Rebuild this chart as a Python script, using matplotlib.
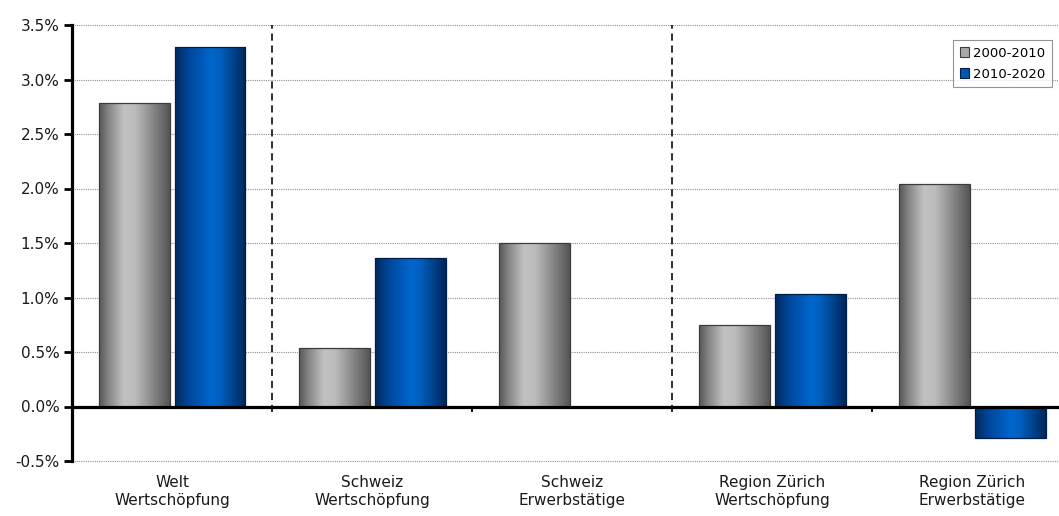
import numpy as np
import matplotlib
matplotlib.use("Agg")
import matplotlib.pyplot as plt
from matplotlib.colors import LinearSegmentedColormap
from matplotlib.patches import Patch
from matplotlib.ticker import FuncFormatter

# Average annual growth rates in percent
categories = ["Welt\nWertschöpfung", "Schweiz\nWertschöpfung", "Schweiz\nErwerbstätige",
              "Region Zürich\nWertschöpfung", "Region Zürich\nErwerbstätige"]
growth_2000_2010 = [2.78, 0.54, 1.50, 0.75, 2.04]
growth_2010_2020 = [3.30, 1.36, np.nan, 1.03, -0.29]
series_labels = ["2000-2010", "2010-2020"]
y_ticks = [-0.5, 0.0, 0.5, 1.0, 1.5, 2.0, 2.5, 3.0, 3.5]

plt.rcParams['font.family'] = ['DejaVu Sans']

W, H = 1059, 516
fig = plt.figure(figsize=(W / 100, H / 100), dpi=100)
ax = fig.add_axes([72 / W, 55 / H, 1000 / W, 436 / H])

gray_cmap = LinearSegmentedColormap.from_list("gray_bar", [
    (0.0, "#575757"), (0.15, "#8a8a8a"), (0.35, "#c2c2c2"), (0.5, "#bdbdbd"),
    (0.75, "#8a8a8a"), (1.0, "#545454")])
blue_cmap = LinearSegmentedColormap.from_list("blue_bar", [
    (0.0, "#002a5e"), (0.2, "#00479c"), (0.5, "#0066cc"), (0.62, "#0061c2"),
    (0.85, "#003e84"), (1.0, "#00275a")])

x = np.arange(len(categories))
width = 0.355
offset = 0.19


def gradient_bars(xpos, values, cmap, edge):
    bars = ax.bar(xpos, values, width, facecolor="none", edgecolor=edge,
                  linewidth=0.9, zorder=3)
    grad = np.linspace(0, 1, 256)[None, :]
    for b, v in zip(bars, values):
        if np.isnan(v):
            continue
        x0, y0 = b.get_x(), b.get_y()
        img = ax.imshow(grad, cmap=cmap, aspect="auto", interpolation="bicubic",
                        extent=[x0, x0 + b.get_width(), y0, y0 + b.get_height()],
                        zorder=2)
        img.set_clip_path(b)
    return bars


gradient_bars(x - offset, growth_2000_2010, gray_cmap, "#3c3c3c")
gradient_bars(x + offset, growth_2010_2020, blue_cmap, "#001d48")

ax.set_xlim(-0.5, 4.5)
ax.set_ylim(-0.5, 3.5)

# Horizontal dotted grid
for yv in y_ticks:
    if yv == 0:
        continue
    ax.axhline(yv, color="#8f8f8f", linewidth=0.8, linestyle=(0, (1, 1)),
               zorder=1, clip_on=False)

# Zero line
ax.axhline(0, color="black", linewidth=2.3, zorder=4)

# Group separators
ax.vlines([0.5, 2.5], -0.05, 3.5, colors="black", linewidth=1.15,
          linestyles=(0, (4.5, 3)), zorder=1)
# Category boundary ticks on the zero line
ax.vlines([1.5, 3.5], -0.05, 0, colors="black", linewidth=1.3, zorder=4)

ax.set_yticks(y_ticks)
ax.yaxis.set_major_formatter(FuncFormatter(lambda v, p: f"{v:.1f}%"))
ax.set_xticks(x)
ax.set_xticklabels(categories, fontsize=11, linespacing=1.25, color="#1a1a1a")
ax.tick_params(axis="x", length=0, pad=10)
ax.tick_params(axis="y", direction="out", length=6, width=2, pad=3, labelsize=11,
               labelcolor="#1a1a1a")

for s in ["top", "right", "bottom"]:
    ax.spines[s].set_visible(False)
ax.spines["left"].set_linewidth(2.3)
ax.spines["left"].set_zorder(5)

handles = [Patch(facecolor="#a8a8a8", edgecolor="#3c3c3c", linewidth=0.8),
           Patch(facecolor="#0058b4", edgecolor="#001d48", linewidth=0.8)]
leg = fig.legend(handles, series_labels, loc="upper right",
                 bbox_to_anchor=(1052 / W, 1 - 40 / H), fontsize=9.5,
                 frameon=True, fancybox=False, handlelength=0.7, handleheight=0.7,
                 handletextpad=0.3, borderpad=0.5, labelspacing=0.6,
                 borderaxespad=0)
leg.get_frame().set_edgecolor("#7a7a7a")
leg.get_frame().set_linewidth(0.8)

fig.savefig("out.png", dpi=100)
